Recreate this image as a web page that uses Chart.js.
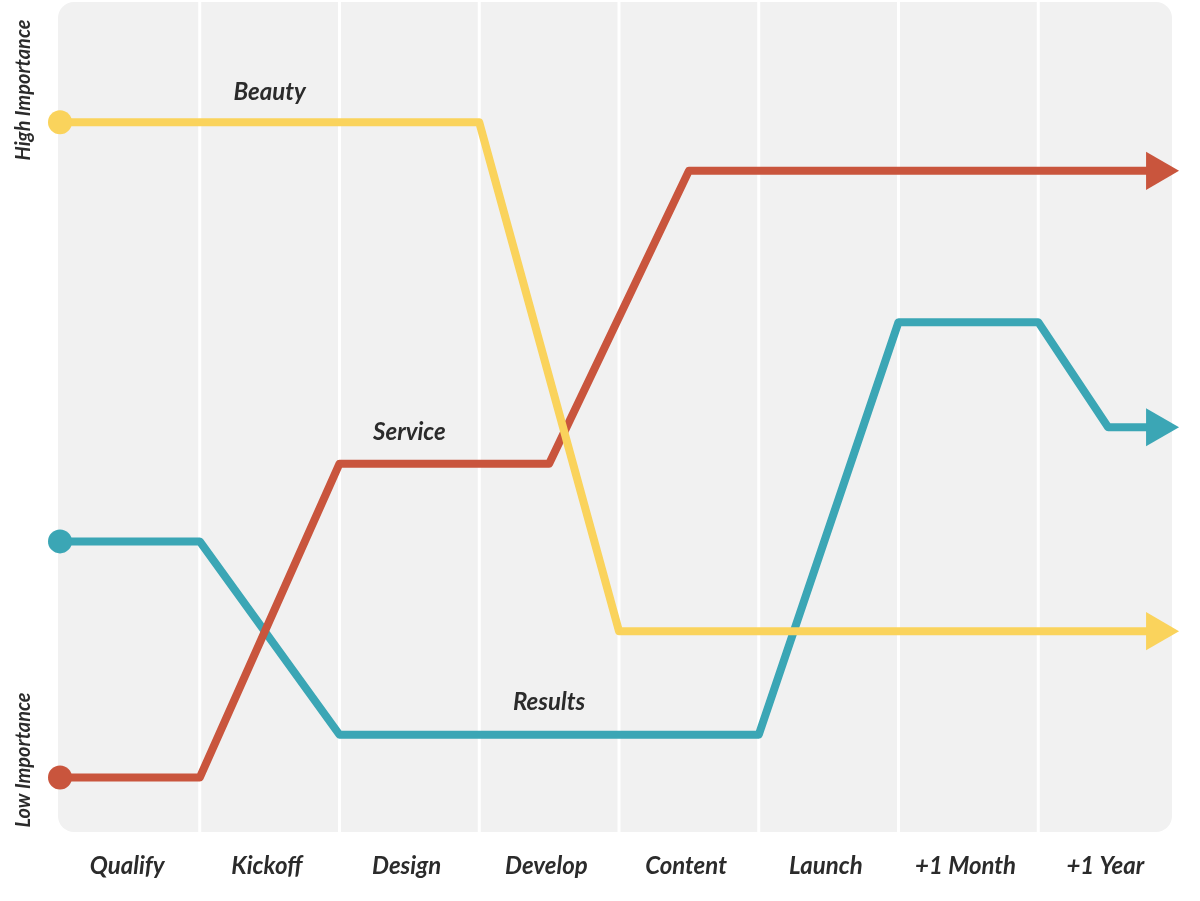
<!DOCTYPE html>
<html>
<head>
<meta charset="utf-8">
<script src="https://cdn.jsdelivr.net/npm/chart.js@4"></script>
<style>
  body { margin: 0; background: #fff; }
  #wrap { width: 1200px; height: 901px; }
</style>
</head>
<body>
<div id="wrap"><canvas id="grafico"></canvas></div>
<script>
const etapas = ['Qualify', 'Kickoff', 'Design', 'Develop', 'Content', 'Launch', '+1 Month', '+1 Year'];
const etiquetasEje = ['High Importance', 'Low Importance'];

// x = borde de columna (0..8), y = importancia 0..100
const beautyX  = [0, 3, 4, 7.85];
const beautyY  = [87.6, 87.6, 24.7, 24.7];
const serviceX = [0, 1, 2, 3.5, 4.5, 7.85];
const serviceY = [6.6, 6.6, 45.4, 45.4, 81.6, 81.6];
const resultsX = [0, 1, 2, 5, 6, 7, 7.5, 7.85];
const resultsY = [35.8, 35.8, 11.9, 11.9, 62.9, 62.9, 49.9, 49.9];

const nombres = [
    { texto: 'Beauty',  x: 1.5,  y: 91.3 },
    { texto: 'Service', x: 2.5,  y: 49.3 },
    { texto: 'Results', x: 3.5,  y: 15.9 }
];

const colores = {
    beauty: '#fad35c',
    service: '#c9553d',
    results: '#3ba6b5'
};

const armarPuntos = (xs, ys) => xs.map((x, i) => ({ x: x, y: ys[i] }));

const serie = (label, xs, ys, color) => {
    const n = xs.length;
    return {
        label: label,
        data: armarPuntos(xs, ys),
        borderColor: color,
        backgroundColor: color,
        borderWidth: 8,
        borderJoinStyle: 'round',
        tension: 0,
        clip: false,
        pointStyle: xs.map((_, i) => i === n - 1 ? 'triangle' : 'circle'),
        pointRotation: xs.map((_, i) => i === n - 1 ? 90 : 0),
        pointRadius: xs.map((_, i) => i === 0 ? 12 : (i === n - 1 ? 22 : 0)),
        pointBorderWidth: 0,
        pointHoverRadius: 0
    };
};

const fondoPanel = {
    id: 'fondoPanel',
    beforeDatasetsDraw(chart) {
        const ctx = chart.ctx;
        const sx = chart.scales.x;
        ctx.save();
        ctx.fillStyle = '#f1f1f1';
        ctx.beginPath();
        ctx.roundRect(58, 2, 1114, 830, 16);
        ctx.fill();
        ctx.strokeStyle = '#ffffff';
        ctx.lineWidth = 3;
        for (let i = 1; i <= 7; i++) {
            const px = sx.getPixelForValue(i);
            ctx.beginPath();
            ctx.moveTo(px, 2);
            ctx.lineTo(px, 832);
            ctx.stroke();
        }
        ctx.restore();
    },
    afterDatasetsDraw(chart) {
        const ctx = chart.ctx;
        const sx = chart.scales.x;
        const sy = chart.scales.y;
        ctx.save();
        ctx.fillStyle = '#2b2b2b';
        ctx.font = 'italic bold 24px Lato';
        ctx.textAlign = 'center';
        ctx.textBaseline = 'middle';
        etapas.forEach((et, i) => {
            ctx.fillText(et, sx.getPixelForValue(i + 0.48), 866);
        });
        nombres.forEach(n => {
            ctx.fillText(n.texto, sx.getPixelForValue(n.x), sy.getPixelForValue(n.y));
        });
        ctx.font = 'italic bold 20px Lato';
        [[etiquetasEje[0], 90], [etiquetasEje[1], 760]].forEach(([t, py]) => {
            ctx.save();
            ctx.translate(24, py);
            ctx.rotate(-Math.PI / 2);
            ctx.fillText(t, 0, 0);
            ctx.restore();
        });
        ctx.restore();
    }
};

new Chart(document.getElementById('grafico'), {
    type: 'line',
    data: {
        datasets: [
            serie('Beauty', beautyX, beautyY, colores.beauty),
            serie('Service', serviceX, serviceY, colores.service),
            serie('Results', resultsX, resultsY, colores.results)
        ]
    },
    options: {
        responsive: true,
        maintainAspectRatio: false,
        animation: false,
        layout: { padding: { left: 60, right: -10, top: -18, bottom: 70 } },
        scales: {
            x: { type: 'linear', min: 0, max: 8, display: false },
            y: { min: 0, max: 100, display: false }
        },
        plugins: {
            legend: { display: false },
            tooltip: { enabled: false }
        }
    },
    plugins: [fondoPanel]
});
</script>
</body>
</html>
